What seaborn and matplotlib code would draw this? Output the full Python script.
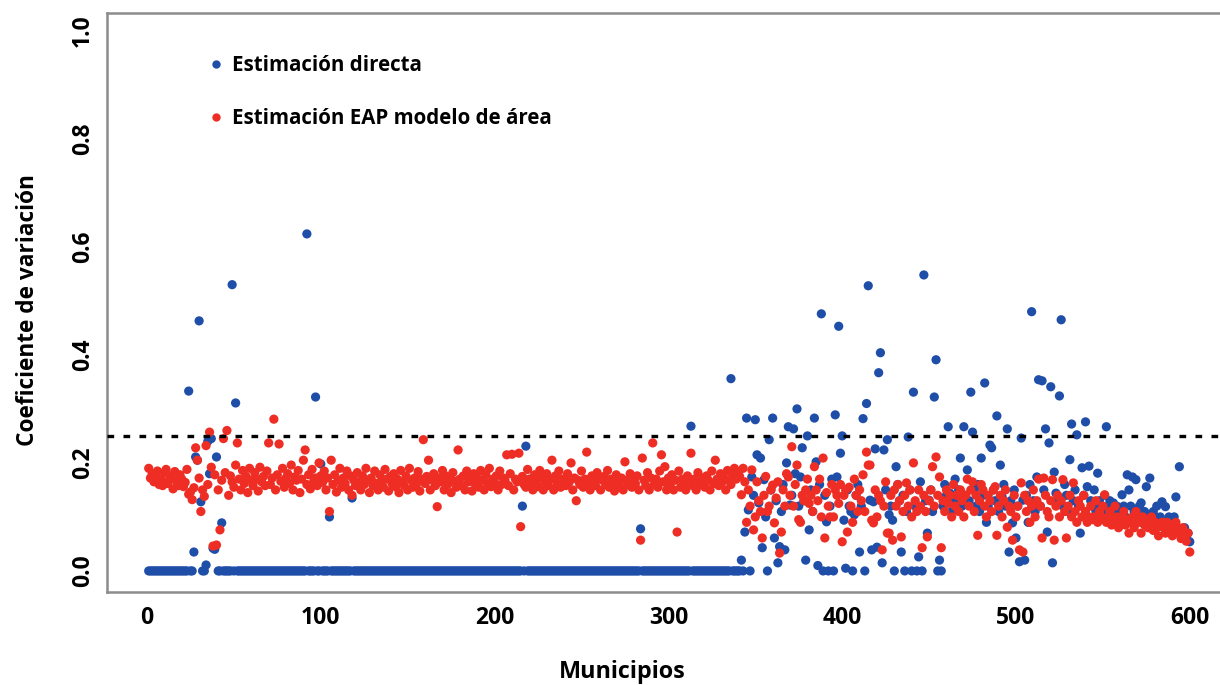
import numpy as np
import pandas as pd
import matplotlib
matplotlib.use("Agg")
import matplotlib.pyplot as plt
import seaborn as sns
from matplotlib.lines import Line2D

# ---------------- data ----------------
x_ticks = [0, 100, 200, 300, 400, 500, 600]
y_ticks = [0.0, 0.2, 0.4, 0.6, 0.8, 1.0]
y_ticklabels = ["0.0", "0.2", "0.4", "0.6", "0.8", "1.0"]
umbral = 0.25
etiqueta_directa = "Estimación directa"
etiqueta_eap = "Estimación EAP modelo de área"

# Estimación directa, municipios 1-344 (mostly zero)
directa_a = [
    0, 0, 0, 0, 0, 0, 0, 0, 0, 0, 0, 0, 0, 0, 0, 0, 0, 0, 0, 0,
    0, 0, 0, .333, 0, 0, .035, .211, .205, .463, .128, 0, 0, .011, .240, .180, .245, .042, .040, .211,
    0, 0, .089, 0, 0, 0, 0, 0, .530, 0, .311, 0, 0, 0, 0, 0, 0, 0, 0, 0,
    0, 0, 0, 0, 0, 0, 0, 0, 0, 0, 0, 0, 0, 0, 0, 0, 0, 0, 0, 0,
    0, 0, 0, 0, 0, 0, 0, 0, 0, 0, 0, .624, 0, 0, 0, 0, .322, 0, 0, .198,
    0, 0, 0, 0, .100, 0, 0, 0, 0, 0, 0, 0, 0, 0, 0, 0, 0, .135, 0, 0,
    0, 0, 0, 0, 0, 0, 0, 0, 0, 0, 0, 0, 0, 0, 0, 0, 0, 0, 0, 0,
    0, 0, 0, 0, 0, 0, 0, 0, 0, 0, 0, 0, 0, 0, 0, 0, 0, 0, 0, 0,
    0, 0, 0, 0, 0, 0, 0, 0, 0, 0, 0, 0, 0, 0, 0, 0, 0, 0, 0, 0,
    0, 0, 0, 0, 0, 0, 0, 0, 0, 0, 0, 0, 0, 0, 0, 0, 0, 0, 0, 0,
    0, 0, 0, 0, 0, 0, 0, 0, 0, 0, 0, 0, 0, 0, 0, .120, 0, .231, 0, 0,
    0, 0, 0, 0, 0, 0, 0, 0, 0, 0, 0, 0, 0, 0, 0, 0, 0, 0, 0, 0,
    0, 0, 0, 0, 0, 0, 0, 0, 0, 0, 0, 0, 0, 0, 0, 0, 0, 0, 0, 0,
    0, 0, 0, 0, 0, 0, 0, 0, 0, 0, 0, 0, 0, 0, 0, 0, 0, 0, 0, 0,
    0, 0, 0, .078, 0, 0, 0, 0, 0, 0, 0, 0, 0, 0, 0, 0, 0, 0, 0, 0,
    0, 0, 0, 0, 0, 0, 0, 0, 0, 0, 0, 0, .268, 0, 0, 0, 0, 0, 0, 0,
    0, 0, 0, 0, 0, 0, 0, 0, 0, 0, 0, 0, 0, 0, 0, .356, 0, 0, 0, 0,
    0, .020, 0, .072,
]
# Estimación directa, municipios 345-600
directa_b = [
    .283, .113, .000, .174, .140, .280, .215, .126, .209, .043, .169, .100, .000, .243, .150, .283, .061, .130, .015, .045,
    .110, .160, .039, .200, .267, .122, .140, .263, .180, .300, .120, .174, .228, .130, .020, .250, .076, .150, .110, .283,
    .202, .010, .160, .476, .000, .140, .091, .000, .120, .170, .000, .289, .174, .453, .218, .250, .094, .005, .150, .120,
    .110, .000, .104, .140, .160, .035, .120, .282, .000, .310, .528, .131, .039, .128, .226, .044, .367, .404, .015, .224,
    .150, .243, .104, .120, .094, .000, .193, .160, .130, .035, .140, .000, .110, .248, .150, .000, .331, .120, .000, .026,
    .165, .000, .548, .130, .070, .131, .150, .110, .322, .391, .000, .020, .000, .120, .160, .140, .267, .144, .110, .130,
    .170, .120, .150, .209, .120, .267, .140, .187, .130, .331, .257, .150, .120, .160, .110, .209, .140, .348, .090, .120,
    .233, .228, .150, .130, .287, .110, .196, .137, .160, .120, .263, .035, .130, .089, .150, .061, .120, .017, .246, .131,
    .020, .140, .090, .160, .480, .130, .110, .174, .354, .120, .352, .150, .263, .072, .237, .341, .015, .183, .144, .130,
    .324, .465, .120, .160, .140, .110, .206, .272, .130, .150, .252, .120, .070, .191, .140, .276, .156, .194, .130, .120,
    .150, .110, .181, .130, .120, .109, .140, .267, .120, .130, .110, .126, .100, .120, .090, .110, .141, .120, .100, .178,
    .150, .120, .174, .110, .169, .100, .120, .126, .090, .110, .156, .100, .172, .090, .110, .100, .120, .090, .100, .128,
    .080, .119, .090, .100, .080, .090, .100, .137, .080, .193, .070, .076, .080, .063, .070, .054,
]
# Estimación EAP modelo de área, municipios 1-344
eap_a = [
    .190, .172, .180, .165, .175, .185, .160, .170, .158, .182, .188, .162, .170, .176, .152, .184, .166, .158, .178, .170,
    .156, .164, .188, .142, .146, .132, .154, .228, .205, .172, .110, .150, .138, .232, .160, .257, .192, .046, .178, .048,
    .150, .076, .168, .245, .182, .260, .140, .176, .165, .155, .196, .237, .170, .150, .186, .162, .175, .145, .190, .168,
    .158, .182, .170, .148, .192, .165, .175, .158, .185, .237, .160, .172, .281, .150, .178, .235, .166, .190, .155, .172,
    .180, .162, .196, .150, .174, .168, .186, .145, .170, .205, .224, .160, .178, .152, .188, .166, .172, .158, .200, .176,
    .164, .185, .150, .172, .110, .205, .160, .178, .146, .168, .190, .155, .172, .162, .185, .150, .176, .140, .168, .158,
    .182, .165, .150, .176, .160, .190, .168, .145, .172, .158, .185, .162, .150, .178, .166, .155, .188, .170, .148, .175,
    .162, .180, .156, .170, .145, .186, .165, .158, .176, .150, .190, .168, .155, .172, .160, .184, .148, .170, .243, .162,
    .175, .205, .150, .168, .180, .158, .119, .172, .165, .186, .150, .176, .160, .170, .145, .182, .166, .155, .224, .170,
    .158, .176, .150, .185, .165, .170, .148, .180, .160, .172, .155, .186, .168, .150, .178, .162, .190, .156, .170, .164,
    .176, .150, .185, .160, .172, .168, .215, .158, .180, .216, .150, .170, .165, .218, .082, .175, .160, .155, .188, .170,
    .162, .150, .178, .168, .156, .186, .172, .150, .165, .180, .158, .170, .205, .150, .176, .162, .185, .155, .170, .168,
    .158, .180, .165, .200, .150, .172, .130, .168, .160, .185, .155, .170, .220, .162, .150, .176, .166, .158, .182, .170,
    .150, .168, .175, .160, .186, .155, .170, .162, .148, .178, .165, .158, .172, .150, .202, .168, .160, .180, .155, .170,
    .162, .176, .150, .057, .209, .168, .158, .182, .150, .172, .237, .160, .170, .155, .185, .215, .165, .193, .150, .172,
    .160, .178, .150, .168, .072, .185, .155, .170, .162, .150, .176, .166, .218, .158, .170, .150, .182, .165, .160, .172,
    .155, .176, .168, .150, .185, .162, .205, .170, .158, .180, .165, .172, .150, .186, .168, .160, .178, .190, .170, .182,
    .175, .141, .190, .165,
]
# Estimación EAP modelo de área, municipios 345-600
eap_b = [
    .090, .150, .120, .187, .076, .100, .165, .130, .110, .061, .140, .175, .110, .120, .150, .159, .089, .135, .165, .033,
    .072, .150, .120, .180, .174, .140, .230, .120, .160, .196, .095, .090, .140, .130, .150, .170, .125, .140, .110, .193,
    .150, .130, .170, .100, .209, .061, .145, .120, .100, .160, .100, .150, .140, .125, .160, .054, .140, .150, .072, .155,
    .120, .090, .170, .140, .110, .150, .130, .178, .110, .220, .196, .196, .094, .089, .150, .100, .140, .130, .039, .120,
    .165, .070, .070, .140, .057, .150, .120, .160, .130, .063, .110, .140, .163, .120, .150, .100, .200, .130, .110, .150,
    .120, .043, .140, .110, .063, .130, .150, .193, .120, .211, .140, .174, .043, .130, .110, .150, .125, .140, .100, .160,
    .120, .140, .110, .150, .130, .100, .140, .170, .120, .150, .165, .110, .140, .066, .130, .160, .150, .120, .100, .140,
    .130, .110, .150, .156, .066, .120, .140, .100, .130, .150, .081, .120, .110, .057, .140, .100, .120, .039, .163, .035,
    .140, .110, .130, .090, .120, .150, .100, .130, .170, .120, .061, .172, .140, .110, .100, .130, .169, .057, .120, .140,
    .100, .130, .169, .110, .061, .120, .140, .100, .163, .110, .090, .130, .120, .100, .140, .110, .090, .100, .120, .095,
    .100, .130, .090, .110, .100, .120, .141, .090, .100, .110, .085, .095, .120, .100, .080, .090, .100, .110, .085, .095,
    .070, .090, .100, .080, .110, .095, .090, .070, .100, .085, .090, .080, .095, .100, .075, .090, .080, .065, .085, .090,
    .080, .070, .090, .075, .085, .065, .080, .090, .070, .075, .060, .080, .065, .055, .070, .035,
]

directa = directa_a + directa_b
eap = eap_a + eap_b
municipios = list(range(1, len(directa) + 1))
assert len(directa) == len(eap) == 600, (len(directa_a), len(directa_b), len(eap_a), len(eap_b))

# ---------------- style ----------------
BLUE = "#1F4EA8"
RED = "#EE2E24"
SPINE = "#8C8C8C"

sns.set_style("white")
plt.rcParams["font.family"] = ["Open Sans", "DejaVu Sans"]
plt.rcParams["font.weight"] = "bold"
plt.rcParams["text.color"] = "black"
plt.rcParams["axes.labelcolor"] = "black"
plt.rcParams["xtick.color"] = "black"
plt.rcParams["ytick.color"] = "black"

fig = plt.figure(figsize=(12.2, 6.85), dpi=100)
ax = fig.add_axes([107 / 1220, 93 / 685, 1124.5 / 1220, 579 / 685])

df = pd.DataFrame({"Municipios": municipios, "directa": directa, "eap": eap})
sns.scatterplot(data=df, x="Municipios", y="directa", color=BLUE, s=44,
                edgecolor="none", linewidth=0, ax=ax, zorder=2, legend=False)
sns.scatterplot(data=df, x="Municipios", y="eap", color=RED, s=44,
                edgecolor="none", linewidth=0, ax=ax, zorder=3, legend=False)

ax.axhline(umbral, color="black", lw=2.4, ls=(0, (2.0, 2.8)), zorder=4)

ax.set_xlim(-23, 624)
ax.set_ylim(-0.039, 1.033)
ax.set_xticks(x_ticks)
ax.set_xticklabels([str(v) for v in x_ticks])
ax.set_yticks(y_ticks)
ax.set_yticklabels(y_ticklabels, rotation=90, va="center")

for side in ["left", "bottom", "top", "right"]:
    ax.spines[side].set_visible(True)
    ax.spines[side].set_color(SPINE)
    ax.spines[side].set_linewidth(1.8)

ax.tick_params(axis="both", which="major", direction="out", length=7.2, width=1.4,
               color=SPINE, labelcolor="black", labelsize=16.5)
ax.tick_params(axis="x", pad=3)
ax.tick_params(axis="y", pad=1.5)
for lab in ax.get_xticklabels() + ax.get_yticklabels():
    lab.set_fontweight("bold")

ax.set_xlabel("Municipios", fontsize=16.8, fontweight="bold", va="center", color="black")
ax.set_ylabel("Coeficiente de variación", fontsize=16.3, fontweight="bold", va="center", color="black")
ax.xaxis.set_label_coords(0.458, -0.138)
ax.yaxis.set_label_coords(-0.0703, 0.487)

handles = [
    Line2D([], [], marker="o", ls="", color=BLUE, markersize=6, markeredgewidth=0),
    Line2D([], [], marker="o", ls="", color=RED, markersize=6, markeredgewidth=0),
]
leg = ax.legend(handles, [etiqueta_directa, etiqueta_eap], loc="upper left",
                bbox_to_anchor=(0.0916, 0.927), frameon=False, borderpad=0,
                borderaxespad=0, handlelength=0.6, handletextpad=0.45,
                labelspacing=1.55, prop={"size": 14.8, "weight": "bold"})
for t in leg.get_texts():
    t.set_color("black")

fig.savefig("out.png", dpi=100)
